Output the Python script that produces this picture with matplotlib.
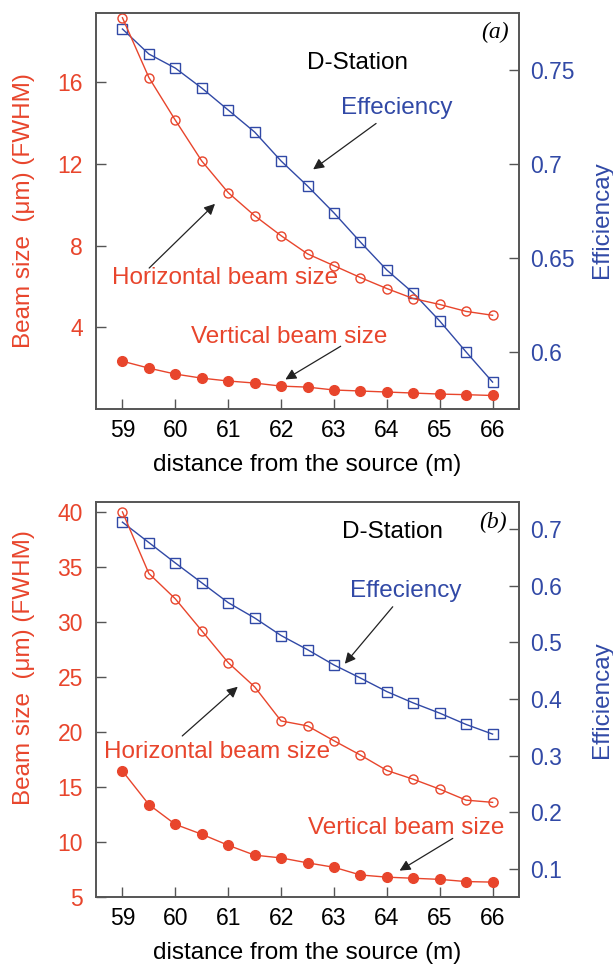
import matplotlib
matplotlib.use("Agg")
import matplotlib.pyplot as plt

plt.rcParams['font.family'] = ['Liberation Sans', 'DejaVu Sans']

RED = '#e8452c'
BLUE = '#3149a6'
SPINE = '#555555'

distance = [59, 59.5, 60, 60.5, 61, 61.5, 62, 62.5, 63, 63.5, 64, 64.5, 65, 65.5, 66]

# panel (a)
horiz_a = [19.17, 16.24, 14.15, 12.15, 10.6, 9.47, 8.49, 7.6, 7.02, 6.44, 5.9, 5.41, 5.12, 4.78, 4.59]
vert_a = [2.34, 2.0, 1.71, 1.51, 1.37, 1.27, 1.12, 1.07, 0.93, 0.88, 0.83, 0.78, 0.73, 0.70, 0.66]
eff_a = [0.7718, 0.7585, 0.751, 0.7404, 0.7287, 0.717, 0.7016, 0.6883, 0.674, 0.6585,
         0.6436, 0.6314, 0.6165, 0.600, 0.584]

# panel (b)
horiz_b = [40.0, 34.4, 32.1, 29.2, 26.3, 24.1, 21.0, 20.55, 19.2, 17.9, 16.5, 15.7, 14.8, 13.8, 13.6]
vert_b = [16.45, 13.4, 11.6, 10.7, 9.7, 8.8, 8.55, 8.1, 7.7, 7.0, 6.8, 6.7, 6.6, 6.4, 6.35]
eff_b = [0.712, 0.676, 0.640, 0.605, 0.570, 0.543, 0.512, 0.487, 0.460, 0.437,
         0.413, 0.393, 0.375, 0.355, 0.338]

xticks = [59, 60, 61, 62, 63, 64, 65, 66]

TICK_FS = 16.5
LABEL_FS = 17.5
NOTE_FS = 17.5

fig = plt.figure(figsize=(6.13, 9.65), dpi=100)
ax_a = fig.add_axes([0.1566, 0.5762, 0.6901, 0.4103])
ax_b = fig.add_axes([0.1566, 0.0705, 0.6901, 0.4093])


def style_axes(ax, ax2, left_lab_y, right_lab_y):
    for a in (ax, ax2):
        for s in a.spines.values():
            s.set_color(SPINE)
            s.set_linewidth(1.2)
    ax.tick_params(axis='x', direction='in', length=7, width=1, color=SPINE,
                   labelsize=TICK_FS, pad=7, top=False)
    ax.tick_params(axis='y', direction='in', length=7, width=1, color=SPINE,
                   labelsize=TICK_FS, labelcolor=RED, pad=9.5, right=False)
    ax2.tick_params(axis='y', direction='in', length=7, width=1, color=SPINE,
                    labelsize=TICK_FS, labelcolor=BLUE, pad=8)
    ax.set_xlim(58.5, 66.5)
    ax.set_xticks(xticks)
    ax.set_xlabel('distance from the source (m)', fontsize=LABEL_FS, labelpad=9)
    ax.set_ylabel('Beam size  (\u03bcm) (FWHM)', fontsize=LABEL_FS, color=RED)
    ax2.set_ylabel('Efficiencay', fontsize=LABEL_FS, color=BLUE)
    ax.yaxis.set_label_coords(-0.144, left_lab_y)
    ax2.yaxis.set_label_coords(1.171, right_lab_y)


def draw_panel(ax, horiz, vert, eff):
    ax2 = ax.twinx()
    ax.plot(distance, horiz, color=RED, lw=1, marker='o', ms=6.5,
            mfc='none', mec=RED, mew=1)
    ax.plot(distance, vert, color=RED, lw=1, marker='o', ms=7,
            mfc=RED, mec=RED)
    ax2.plot(distance, eff, color=BLUE, lw=1, marker='s', ms=7,
             mfc='none', mec=BLUE, mew=1)
    ax.set_zorder(ax2.get_zorder() + 1)
    ax.patch.set_visible(False)
    return ax2


arrow = dict(arrowstyle='-|>', color='#222222', lw=0.9, mutation_scale=16)

# ---- panel (a)
ax2_a = draw_panel(ax_a, horiz_a, vert_a, eff_a)
ax_a.set_ylim(0, 19.4)
ax_a.set_yticks([4, 8, 12, 16])
ax2_a.set_ylim(0.5697, 0.7803)
ax2_a.set_yticks([0.6, 0.65, 0.7, 0.75])
ax2_a.set_yticklabels(['0.6', '0.65', '0.7', '0.75'])
style_axes(ax_a, ax2_a, 0.5, 0.477)

ax_a.text(0.617, 0.874, 'D-Station', transform=ax_a.transAxes, fontsize=NOTE_FS,
          ha='center', va='center')
ax_a.text(0.943, 0.952, '(a)', transform=ax_a.transAxes, fontsize=17,
          family='Liberation Serif', style='italic', ha='center', va='center')
ax_a.annotate('Effeciency', xy=(0.508, 0.601), xytext=(0.712, 0.760),
              xycoords='axes fraction', textcoords='axes fraction',
              fontsize=NOTE_FS, color=BLUE, ha='center', va='center', arrowprops=arrow)
ax_a.annotate('', xy=(0.286, 0.523), xytext=(0.121, 0.351),
              xycoords='axes fraction', textcoords='axes fraction', arrowprops=arrow)
ax_a.text(0.305, 0.331, 'Horizontal beam size', transform=ax_a.transAxes,
          fontsize=NOTE_FS, color=RED, ha='center', va='center')
ax_a.annotate('', xy=(0.442, 0.071), xytext=(0.584, 0.162),
              xycoords='axes fraction', textcoords='axes fraction', arrowprops=arrow)
ax_a.text(0.456, 0.182, 'Vertical beam size', transform=ax_a.transAxes,
          fontsize=NOTE_FS, color=RED, ha='center', va='center')

# ---- panel (b)
ax2_b = draw_panel(ax_b, horiz_b, vert_b, eff_b)
ax_b.set_ylim(5, 40.9)
ax_b.set_yticks([5, 10, 15, 20, 25, 30, 35, 40])
ax2_b.set_ylim(0.0506, 0.7476)
ax2_b.set_yticks([0.1, 0.2, 0.3, 0.4, 0.5, 0.6, 0.7])
style_axes(ax_b, ax2_b, 0.582, 0.5)

ax_b.text(0.700, 0.924, 'D-Station', transform=ax_b.transAxes, fontsize=NOTE_FS,
          ha='center', va='center')
ax_b.text(0.939, 0.949, '(b)', transform=ax_b.transAxes, fontsize=17,
          family='Liberation Serif', style='italic', ha='center', va='center')
ax_b.annotate('Effeciency', xy=(0.584, 0.585), xytext=(0.733, 0.775),
              xycoords='axes fraction', textcoords='axes fraction',
              fontsize=NOTE_FS, color=BLUE, ha='center', va='center', arrowprops=arrow)
ax_b.annotate('', xy=(0.340, 0.537), xytext=(0.199, 0.403),
              xycoords='axes fraction', textcoords='axes fraction', arrowprops=arrow)
ax_b.text(0.286, 0.367, 'Horizontal beam size', transform=ax_b.transAxes,
          fontsize=NOTE_FS, color=RED, ha='center', va='center')
ax_b.annotate('', xy=(0.712, 0.063), xytext=(0.849, 0.152),
              xycoords='axes fraction', textcoords='axes fraction', arrowprops=arrow)
ax_b.text(0.733, 0.175, 'Vertical beam size', transform=ax_b.transAxes,
          fontsize=NOTE_FS, color=RED, ha='center', va='center')

fig.savefig('out.png', dpi=100)
plt.close(fig)
